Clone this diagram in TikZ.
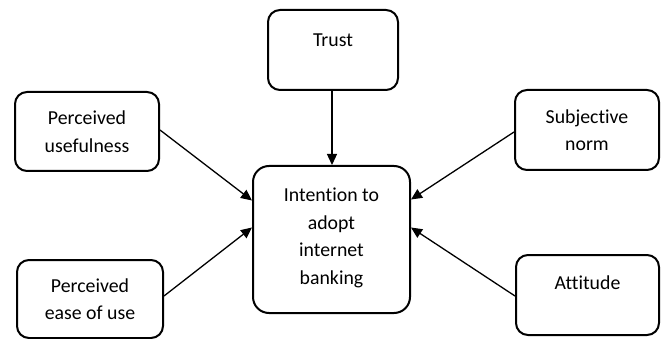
\documentclass[tikz,border=0pt]{standalone}
\usepackage{fontspec}
\setmainfont{Carlito}[Ligatures={NoCommon,NoRare,NoContextual}]
\usetikzlibrary{arrows.meta}
\begin{document}
\begin{tikzpicture}[x=1pt,y=1pt,
  box/.style={draw=black, line width=2pt, rounded corners=12pt, inner sep=0pt},
  lbl/.style={align=center, inner sep=0pt, font=\fontsize{19.8}{27.6}\selectfont},
  conn/.style={draw=black, line width=1.3pt, -{Triangle[length=11pt,width=10pt]}}]
\useasboundingbox (0,0) rectangle (661,-339);
% boxes
\node[box, minimum width=130pt, minimum height=80pt] (trust) at (333,-50) {};
\node[lbl] (trustT) at (333,-40) {Trust};
\node[box, minimum width=144pt, minimum height=79pt] (pu) at (87,-131.5) {};
\node[lbl] (puT) at (87,-131.5) {Perceived\\usefulness};
\node[box, minimum width=146pt, minimum height=78pt] (peou) at (90,-299) {};
\node[lbl] (peouT) at (90,-299) {Perceived\\ease of use};
\node[box, minimum width=144pt, minimum height=80pt] (sn) at (587,-130) {};
\node[lbl] (snT) at (587,-130) {Subjective\\norm};
\node[box, minimum width=143pt, minimum height=80pt] (att) at (587.5,-295) {};
\node[lbl] (attT) at (587.5,-283) {Attitude};
\node[box, rounded corners=16pt, minimum width=157pt, minimum height=147pt] (ctr) at (331.5,-239.5) {};
\node[lbl] (ctrT) at (331.5,-238) {Intention to\\adopt\\internet\\banking};
% connectors
\draw[conn] (trust.south -| 332,0) -- (ctr.north -| 332,0);
\draw[conn] ([yshift=1.5pt]pu.east) -- ([yshift=39pt]ctr.west);
\draw[conn] ([yshift=3pt]peou.east) -- ([yshift=12pt]ctr.west);
\draw[conn] ([yshift=-2pt]sn.west) -- ([yshift=40pt]ctr.east);
\draw[conn] ([yshift=-1pt]att.west) -- ([yshift=12pt]ctr.east);
\end{tikzpicture}
\end{document}
